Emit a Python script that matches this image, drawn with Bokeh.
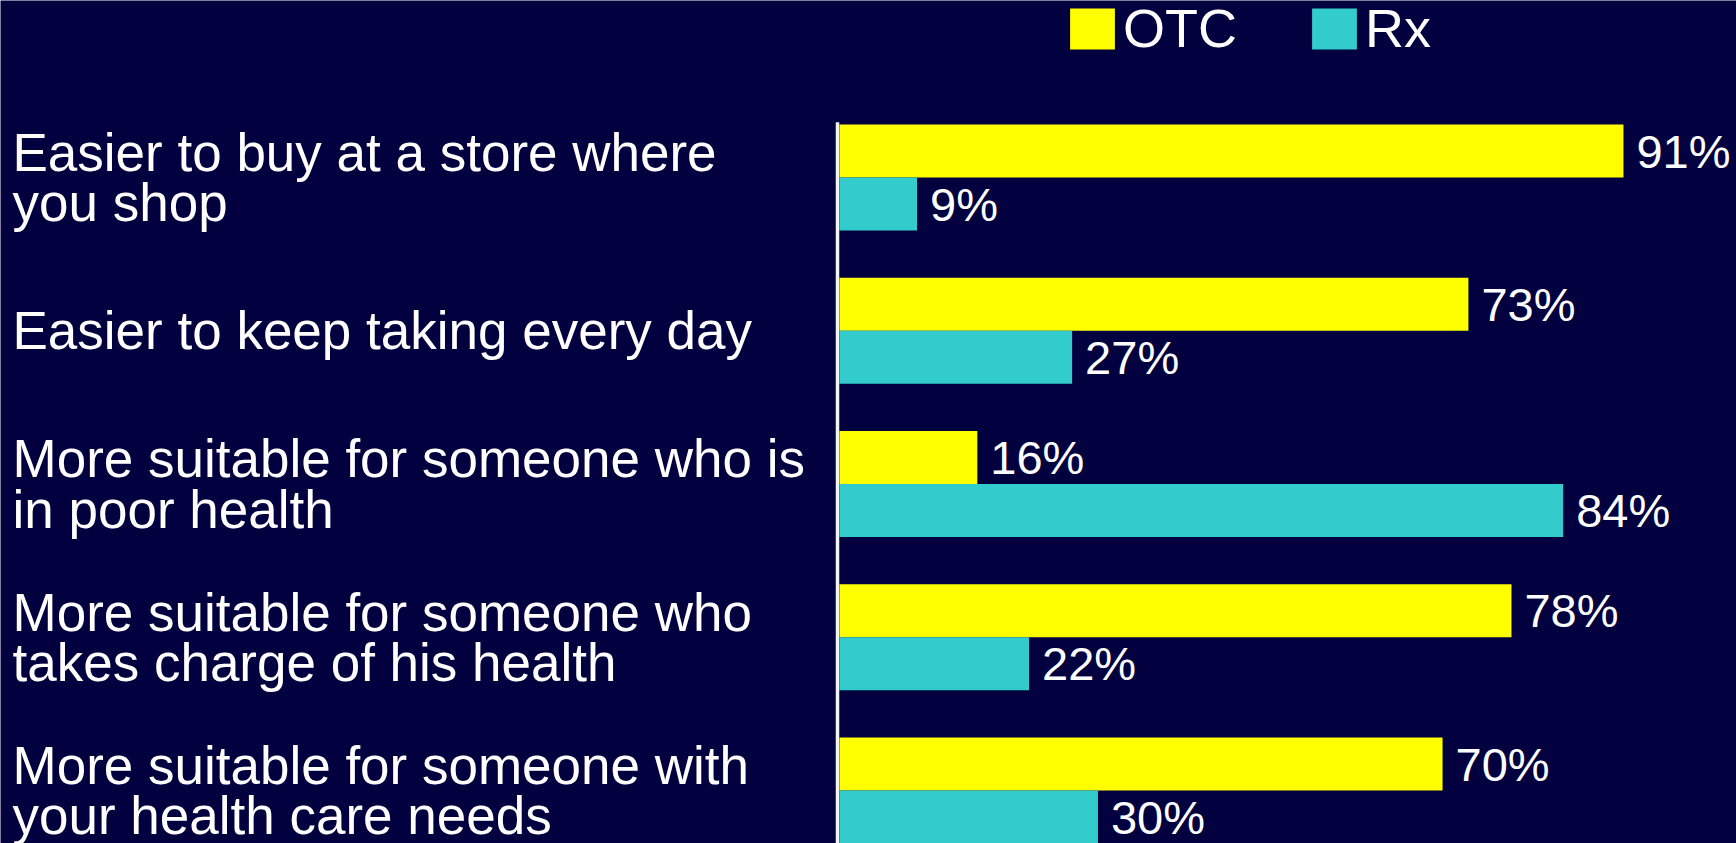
from bokeh.plotting import figure
from bokeh.models import ColumnDataSource, Range1d, Legend, LegendItem
from bokeh.core.properties import value
from bokeh.embed import file_html
from bokeh.resources import INLINE

# Survey data: share of respondents choosing OTC vs Rx for each statement
categories = [
    "Easier to buy at a store where\nyou shop",
    "Easier to keep taking every day",
    "More suitable for someone who is\nin poor health",
    "More suitable for someone who\ntakes charge of his health",
    "More suitable for someone with\nyour health care needs",
]
otc = [91, 73, 16, 78, 70]
rx = [9, 27, 84, 22, 30]
series_names = ["OTC", "Rx"]

BG = "#02003F"
YELLOW = "#FFFF00"
TEAL = "#33CCCC"
FONT = "Liberation Sans"

W, H = 1736, 843
PX_PER_PCT = 8.615      # horizontal scale
AXIS_PX = 839           # screen x of the zero line
GROUP_PX = 153.25       # vertical distance between groups
FIRST_PX = 177          # screen y of the first group's centre
BAR_H = 53 / GROUP_PX   # thickness of one bar in group units

x_lo = -AXIS_PX / PX_PER_PCT
x_hi = (W - AXIS_PX) / PX_PER_PCT
y_top = -FIRST_PX / GROUP_PX
y_bot = (H - FIRST_PX) / GROUP_PX

p = figure(
    width=W, height=H,
    x_range=Range1d(x_lo, x_hi),
    y_range=Range1d(y_bot, y_top),
    output_backend="svg", toolbar_location=None,
    min_border=0, x_axis_location=None, y_axis_location=None,
    background_fill_color=BG, border_fill_color=BG,
)
p.outline_line_color = None
p.xgrid.visible = False
p.ygrid.visible = False

idx = list(range(len(categories)))
src = ColumnDataSource(dict(
    pos=idx,
    otc=otc,
    rx=rx,
    otc_y=[i - BAR_H / 2 for i in idx],
    rx_y=[i + BAR_H / 2 for i in idx],
    otc_lbl=[f"{v}%" for v in otc],
    rx_lbl=[f"{v}%" for v in rx],
    lbl_x=[x_lo] * len(idx),
    cat=categories,
))

r_otc = p.hbar(y="otc_y", left=0, right="otc", height=BAR_H, source=src,
               fill_color=YELLOW, line_color=None)
r_rx = p.hbar(y="rx_y", left=0, right="rx", height=BAR_H, source=src,
              fill_color=TEAL, line_color=None)

# vertical zero line
p.segment(x0=-2 / PX_PER_PCT, x1=-2 / PX_PER_PCT, y0=-0.36, y1=y_bot,
          line_color="#F4F4F4", line_width=3.5)

# value labels at bar ends
for ycol, xcol, tcol in (("otc_y", "otc", "otc_lbl"), ("rx_y", "rx", "rx_lbl")):
    p.text(x=xcol, y=ycol, text=tcol, source=src, x_offset=13,
           text_font=value(FONT), text_font_size="47px", text_color="white",
           text_align="left", text_baseline="middle")

# category labels on the left
p.text(x="lbl_x", y="pos", text="cat", source=src, x_offset=12,
       text_font=value(FONT), text_font_size="53px", text_color="white",
       text_align="left", text_baseline="middle", text_line_height=0.855)

legend = Legend(
    items=[LegendItem(label=series_names[0], renderers=[r_otc]),
           LegendItem(label=series_names[1], renderers=[r_rx])],
    orientation="horizontal", location=(1064, H - 59),
    glyph_width=56, glyph_height=51, label_standoff=3, spacing=69,
    padding=0, margin=0, border_line_color=None, background_fill_alpha=0,
    label_text_font=FONT, label_text_font_size="54px", label_text_color="white",
    label_height=41,
)
p.add_layout(legend)

open("out.html", "w").write(file_html(p, INLINE))
